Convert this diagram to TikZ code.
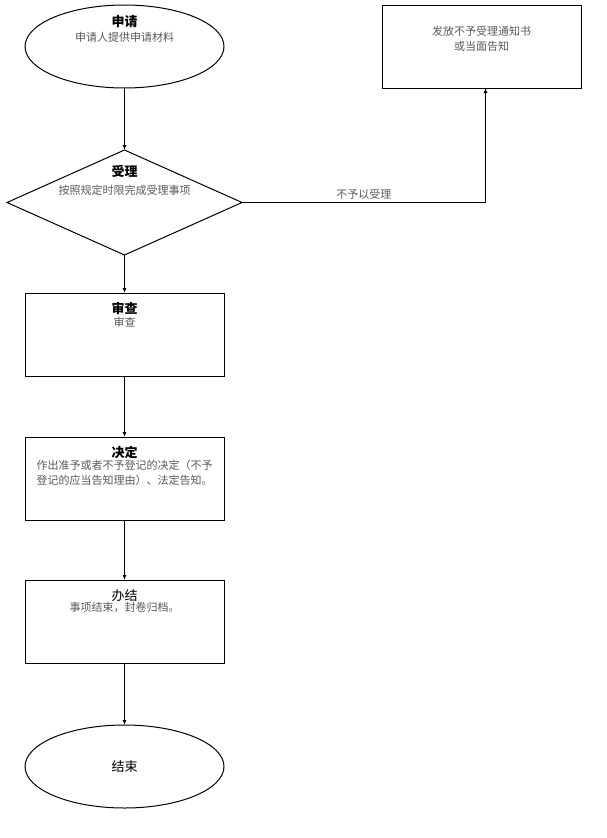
\documentclass[tikz,border=0pt]{standalone}
\usepackage{fontspec}
\setmainfont{Noto Sans CJK SC}
\usetikzlibrary{arrows.meta,positioning,shapes.geometric}

\begin{document}
\begin{tikzpicture}[x=1pt,y=1pt,
	terminal/.style={ellipse,draw,line width=1pt,inner sep=0pt,outer sep=0pt,minimum width=199pt,minimum height=83pt},
	decision/.style={diamond,draw,line width=1pt,inner sep=0pt,outer sep=0pt,minimum width=235pt,minimum height=105pt},
	process/.style={rectangle,draw,line width=1pt,inner sep=0pt,outer sep=0pt,minimum width=199pt,minimum height=83pt},
	heading/.style={inner sep=0pt,font=\bfseries\fontsize{13}{15}\selectfont},
	plainhead/.style={inner sep=0pt,font=\fontsize{13}{15}\selectfont},
	detail/.style={inner sep=0pt,text=black!65,font=\fontsize{11}{15}\selectfont},
	paths/.style={-{Latex[length=5pt,width=4pt]},line width=1pt}
	] % shapes of the flow chart
\useasboundingbox (0,0) rectangle (607,-838);

\node [terminal] at (124.5,-46.5) (sq) {};
\node [decision] (sl)  [below =62pt of sq]  {};
\node [process]  (sc)  [below =38pt of sl]  {};
\node [process]  (jd)  [below =61pt of sc]  {};
\node [process]  (bj)  [below =60pt of jd]  {};
\node [terminal] (js)  [below =62pt of bj]  {};
\node [process]  (bfr) [right =158pt of sq] {};

% texts in the shapes
\node [heading] (sqh) [below =10pt of sq.north] {申请};
\node [detail]  (sqd) [below =4pt of sqh]       {申请人提供申请材料};
\node [heading] (slh) [below =15pt of sl.north] {受理};
\node [detail]  (sld) [below =7pt of slh]       {按照规定时限完成受理事项};
\node [heading] (sch) [below =9pt of sc.north]  {审查};
\node [detail]  (scd) [below =2pt of sch]       {审查};
\node [heading] (jdh) [below =9pt of jd.north]  {决定};
\node [detail, align=left] (jdd) [below =1pt of jdh] {作出准予或者不予登记的决定（不予\\登记的应当告知理由）、法定告知。};
\node [plainhead] (bjh) [below =9pt of bj.north] {办结};
\node [detail]  (bjd) [below =1pt of bjh]       {事项结束，封卷归档。};
\node [plainhead] (jsh) at (js) {结束};
\node [detail, align=center] (bfrd) [below =21pt of bfr.north] {发放不予受理通知书\\或当面告知};

\draw [paths] (sq) to (sl);
\draw [paths] (sl) to (sc);
\draw [paths] (sc) to (jd);
\draw [paths] (jd) to (bj);
\draw [paths] (bj) to (js);
\draw [paths] (sl.east) -| node[pos=0.25, above, detail, yshift=3pt] {不予以受理} ([xshift=4pt]bfr.south);
\end{tikzpicture}
\end{document}
